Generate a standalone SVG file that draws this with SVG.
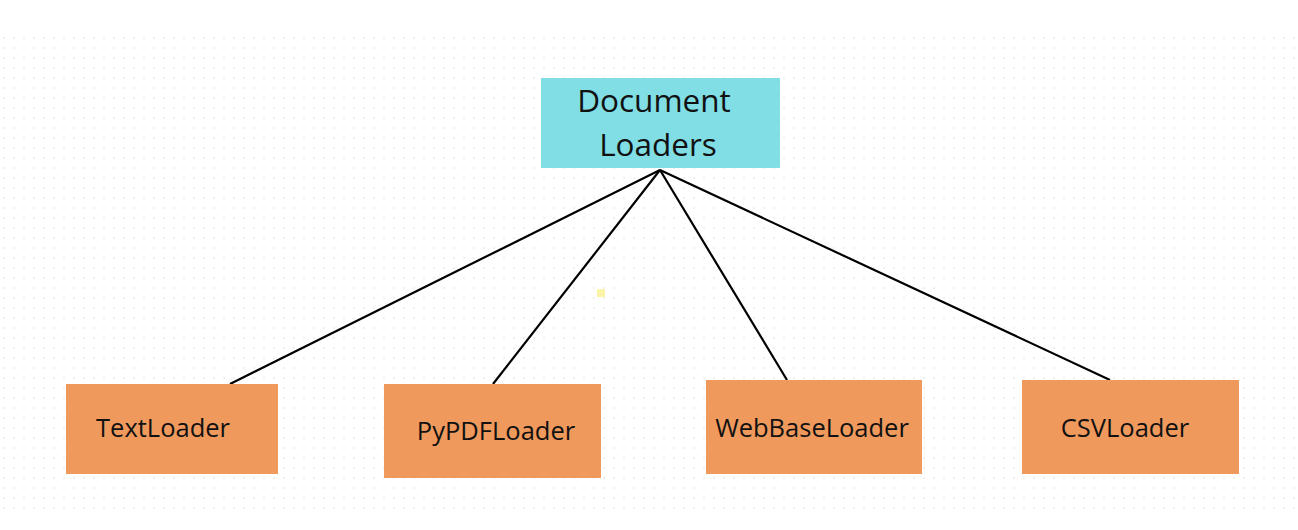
<svg xmlns="http://www.w3.org/2000/svg" width="1298" height="530" viewBox="0 0 1298 530">
<defs>
<pattern id="dots" x="3" y="37" width="10" height="10" patternUnits="userSpaceOnUse">
<rect x="0" y="0" width="2" height="2" fill="#f0f0f0"/>
</pattern>
<style>
.root{fill:#80dee4}
.leaf{fill:#ef995d}
.lbl{font-family:"Open Sans","Noto Sans",sans-serif;fill:#111;text-anchor:middle}
.big{font-size:31.5px}
.sm{font-size:25.5px}
.edge{stroke:#000;stroke-width:2.2;fill:none}
</style>
</defs>
<rect width="1298" height="530" fill="#fff"/>
<rect x="0" y="35" width="1298" height="482" fill="url(#dots)"/>
<rect x="597" y="289" width="8" height="8" fill="#fbf3a8"/>
<g id="connectors">
<line class="edge" x1="660" y1="170" x2="230" y2="384"/>
<line class="edge" x1="660" y1="170" x2="493" y2="384"/>
<line class="edge" x1="660" y1="170" x2="787" y2="380"/>
<line class="edge" x1="660" y1="170" x2="1110" y2="380"/>
</g>
<g id="document-loaders">
<rect class="root" x="541" y="78" width="239" height="90"/>
<text class="lbl big" x="654" y="112">Document</text>
<text class="lbl big" x="658" y="156">Loaders</text>
</g>
<g id="textloader">
<rect class="leaf" x="66" y="384" width="212" height="90"/>
<text class="lbl sm" x="163" y="437">TextLoader</text>
</g>
<g id="pypdfloader">
<rect class="leaf" x="384" y="384" width="217" height="94"/>
<text class="lbl sm" x="496" y="440">PyPDFLoader</text>
</g>
<g id="webbaseloader">
<rect class="leaf" x="706" y="380" width="216" height="94"/>
<text class="lbl sm" x="812" y="437">WebBaseLoader</text>
</g>
<g id="csvloader">
<rect class="leaf" x="1022" y="380" width="217" height="94"/>
<text class="lbl sm" x="1125" y="437">CSVLoader</text>
</g>
</svg>
